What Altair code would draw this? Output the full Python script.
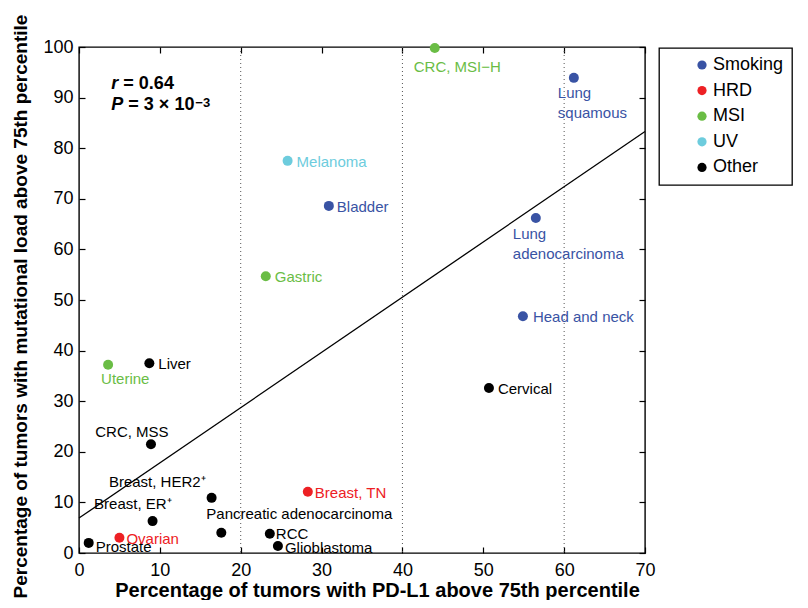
import altair as alt
import pandas as pd

# ---------------- data ----------------
names = ["Prostate", "Ovarian", "Breast, ER⁺", "Uterine", "Liver", "CRC, MSS",
         "Breast, HER2⁺", "Pancreatic adenocarcinoma", "RCC", "Glioblastoma",
         "Breast, TN", "Gastric", "Melanoma", "Bladder", "CRC, MSI−H",
         "Lung\nsquamous", "Lung\nadenocarcinoma", "Head and neck", "Cervical"]
pdl1 = [1.2, 5.0, 9.1, 3.6, 8.7, 8.9, 16.4, 17.6, 23.6, 24.6,
        28.3, 23.1, 25.8, 30.9, 44.0, 61.2, 56.5, 54.9, 50.7]
mutload = [2.0, 3.0, 6.3, 37.2, 37.5, 21.5, 10.9, 4.0, 3.8, 1.4,
           12.1, 54.7, 77.5, 68.6, 99.8, 93.9, 66.2, 46.8, 32.6]
groups = ["Other", "HRD", "Other", "MSI", "Other", "Other", "Other", "Other", "Other", "Other",
          "HRD", "MSI", "UV", "Smoking", "MSI", "Smoking", "Smoking", "Smoking", "Other"]

group_order = ["Smoking", "HRD", "MSI", "UV", "Other"]
group_colors = ["#3953A4", "#ED2024", "#6ABD45", "#6DCCDD", "#000000"]

x_ticks = [0, 10, 20, 30, 40, 50, 60, 70]
y_ticks = [0, 10, 20, 30, 40, 50, 60, 70, 80, 90, 100]
dotted_x = [20, 40, 60]
fit_x = [0, 70]
fit_y = [6.9, 83.3]

annot_x = [4.0]
annot_r_y = [92.6]
annot_p_y = [88.6]
r_text = ["= 0.64"]
p_text = ["= 3 × 10"]
p_exp = ["−3"]

x_title = "Percentage of tumors with PD-L1 above 75th percentile"
y_title = "Percentage of tumors with mutational load above 75th percentile"

# ---------------- label placement (styling) ----------------
LABEL_LAYOUT = [  # (dx, dy, align) in name order
    (7, 4, "left"), (7, 1, "left"), (19, -17, "right"), (-7, 14, "left"),
    (9, 1, "left"), (-19, -12, "center"), (-6, -16, "right"), (-15, -19, "left"),
    (6, 0, "left"), (7, 2, "left"), (7, 1, "left"), (9, 1, "left"),
    (9, 1, "left"), (8, 1, "left"), (-21, 19, "left"), (-16, 15, "left"),
    (-23, 16, "left"), (10, 1, "left"), (9, 1, "left"),
]

FONT = "Liberation Sans"
W, H = 566, 506

df = pd.DataFrame({"idx": list(range(len(names))), "label": names,
                   "pdl1": pdl1, "mutload": mutload, "group": groups})
df_rules = pd.DataFrame({"gx": dotted_x})
df_fit = pd.DataFrame({"fx": fit_x, "fy": fit_y})

xs = alt.Scale(domain=[0, 70], nice=False, zero=False)
ys = alt.Scale(domain=[0, 100], nice=False, zero=False)
cscale = alt.Scale(domain=group_order, range=group_colors)

base = alt.Chart(df)


def xe(axis=None, field="pdl1"):
    return alt.X(f"{field}:Q", scale=xs, axis=axis)


def ye(axis=None, field="mutload"):
    return alt.Y(f"{field}:Q", scale=ys, axis=axis)


layers = []

# dotted verticals
layers.append(alt.Chart(df_rules).mark_rule(color="#555555", strokeDash=[1, 3], strokeWidth=1)
              .encode(x=xe(field="gx")))

# regression line
layers.append(alt.Chart(df_fit).mark_line(color="black", strokeWidth=1.3)
              .encode(x=xe(field="fx"), y=ye(field="fy")))

# points with legend
layers.append(base.mark_circle(size=100, opacity=1).encode(
    x=xe(), y=ye(),
    color=alt.Color("group:N", scale=cscale, legend=alt.Legend(
        title=None, orient="none", legendX=580, legendY=1,
        symbolType="circle", symbolSize=85, symbolStrokeWidth=0,
        symbolOffset=26, labelOffset=2, labelFontSize=18, labelFont=FONT,
        labelColor="black", rowPadding=7.6, padding=8,
        labelExpr="datum.label + ' '")),
))

# labels
for i in range(len(names)):
    dx, dy, align = LABEL_LAYOUT[i]
    layers.append(base.transform_filter(alt.datum.idx == i).mark_text(
        dx=dx, dy=dy, align=align, baseline="middle", fontSize=15, font=FONT,
        lineBreak="\n", lineHeight=20.4).encode(
        x=xe(), y=ye(), text="label:N",
        color=alt.Color("group:N", scale=cscale, legend=None)))

# annotation
adf_r = pd.DataFrame({"ax": annot_x, "ay": annot_r_y, "t": r_text})
adf_p = pd.DataFrame({"ax": annot_x, "ay": annot_p_y, "t": p_text, "e": p_exp})
atext = dict(font=FONT, fontSize=18, fontWeight="bold", align="left", baseline="middle", color="black")
layers.append(alt.Chart(adf_r).mark_text(text="r", fontStyle="italic", **atext)
              .encode(x=xe(field="ax"), y=ye(field="ay")))
layers.append(alt.Chart(adf_r).mark_text(dx=12, **atext)
              .encode(x=xe(field="ax"), y=ye(field="ay"), text="t:N"))
layers.append(alt.Chart(adf_p).mark_text(text="P", fontStyle="italic", **atext)
              .encode(x=xe(field="ax"), y=ye(field="ay")))
layers.append(alt.Chart(adf_p).mark_text(dx=17, **atext)
              .encode(x=xe(field="ax"), y=ye(field="ay"), text="t:N"))
atext_sup = dict(atext, fontSize=13)
layers.append(alt.Chart(adf_p).mark_text(dx=84, dy=-2, **atext_sup)
              .encode(x=xe(field="ax"), y=ye(field="ay"), text="e:N"))

# axes: labels + titles
layers.append(base.mark_point(opacity=0).encode(
    x=xe(alt.Axis(orient="bottom", values=x_ticks, ticks=False, domain=False, grid=False,
                  labelFontSize=18, labelFont=FONT, labelColor="black", labelPadding=8,
                  labelFlush=False, labelOverlap=False,
                  title=x_title, titleFont=FONT, titleFontSize=20, titleFontWeight="bold",
                  titleColor="black", titleX=298, titleY=43, titleAlign="center",
                  titleBaseline="alphabetic")),
    y=ye(alt.Axis(orient="left", values=y_ticks, ticks=False, domain=False, grid=False,
                  labelFontSize=18, labelFont=FONT, labelColor="black", labelPadding=6,
                  labelFlush=False, labelOverlap=False,
                  title=y_title, titleFont=FONT, titleFontSize=19, titleFontWeight="bold",
                  titleColor="black", titleAngle=270, titleX=-53, titleY=259,
                  titleAlign="center", titleBaseline="alphabetic")),
))

# inward ticks on all four sides
tick_kw = dict(labels=False, domain=False, grid=False, title=None, ticks=True,
               tickSize=6, tickWidth=1.2, tickColor="black")
layers.append(base.mark_point(opacity=0).encode(
    x=xe(alt.Axis(orient="top", offset=-H, values=x_ticks, **tick_kw)),
    y=ye(alt.Axis(orient="right", offset=-W, values=y_ticks, **tick_kw)),
))
layers.append(base.mark_point(opacity=0).encode(
    x=xe(alt.Axis(orient="bottom", offset=-H, values=x_ticks, **tick_kw)),
    y=ye(alt.Axis(orient="left", offset=-W, values=y_ticks, **tick_kw)),
))

chart = alt.layer(*layers).resolve_axis(x="independent", y="independent").properties(
    width=W, height=H,
    autosize=alt.AutoSizeParams(type="none"),
    padding={"left": 71, "top": 39, "right": 155, "bottom": 47},
).configure_view(stroke="black", strokeWidth=1.4).configure_legend(
    strokeColor="black", strokeWidth=1.3, fillColor="white"
).configure_text(font=FONT)

chart.save("out.html", embed_options={"renderer": "svg", "actions": False})
